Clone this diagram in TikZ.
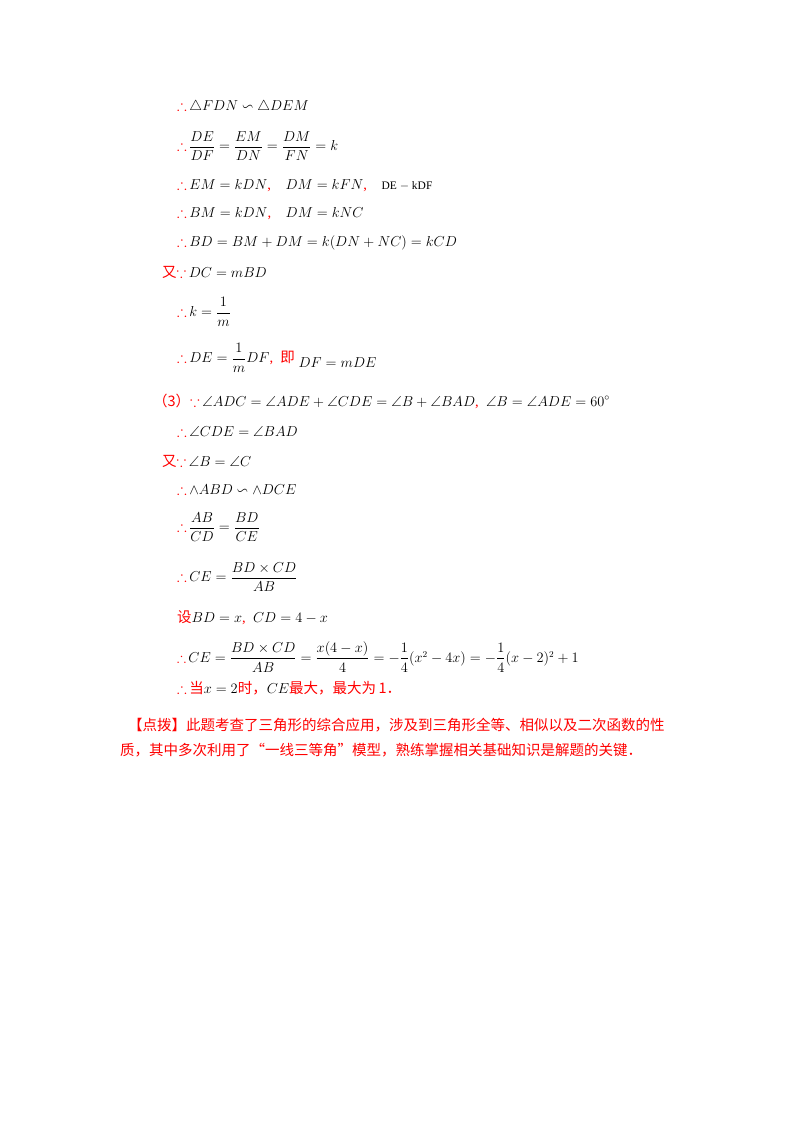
\documentclass[tikz,border=0pt]{standalone}
\usepackage{amsmath,amssymb}
\usepackage{fontspec}
\setmainfont{Liberation Serif}
\newfontfamily\cjk{Noto Sans CJK SC}
\begin{document}
\begin{tikzpicture}[x=1pt,y=-1pt,
  ln/.style={anchor=west,inner sep=0pt,font=\fontsize{14.5}{16}\selectfont},
  cn/.style={anchor=west,inner sep=0pt,text=red,font=\cjk\fontsize{14.5}{16}\selectfont}]
\useasboundingbox (0,0) rectangle (800,1132);
\newcommand{\tf}{{\color{red}$\boldsymbol{\therefore}$}\,}
\newcommand{\bc}{{\color{red}$\boldsymbol{\because}$}\,}
\node[ln] (l1) at (177,107) {\tf$\triangle FDN\backsim\triangle DEM$};
\node[ln] (l2) at (177,146) {\tf$\dfrac{DE}{DF}=\dfrac{EM}{DN}=\dfrac{DM}{FN}=k$};
\node[ln] (l3) at (177,186) {\tf$EM=kDN${\color{red},}\quad$DM=kFN${\color{red},}\quad{\fontsize{11.5}{13}\selectfont DE $-$ kDF}};
\node[ln] (l4) at (177,214) {\tf$BM=kDN${\color{red},}\quad$DM=kNC$};
\node[ln] (l5) at (177,243) {\tf$BD=BM+DM=k(DN+NC)=kCD$};
\node[ln] (l6) at (162,272) {{\cjk\color{red}又}\bc$DC=mBD$};
\node[ln] (l7) at (177,312) {\tf$k=\dfrac{1}{m}$};
\node[ln] (l8) at (177,358) {\tf$DE=\dfrac{1}{m}DF${\color{red},}\ \ {\cjk\color{red}即}\ \raisebox{-5pt}{$DF=mDE$}};
\node[ln] (l9) at (153,401) {{\cjk\color{red}（3）}\bc$\angle ADC=\angle ADE+\angle CDE=\angle B+\angle BAD${\color{red},}\ \ $\angle B=\angle ADE=60^\circ$};
\node[ln] (l10) at (177,431) {\tf$\angle CDE=\angle BAD$};
\node[ln] (l11) at (162,461) {{\cjk\color{red}又}\bc$\angle B=\angle C$};
\node[ln] (l12) at (177,489) {\tf$\wedge ABD\backsim\wedge DCE$};
\node[ln] (l13) at (177,527) {\tf$\dfrac{AB}{CD}=\dfrac{BD}{CE}$};
\node[ln] (l14) at (177,577) {\tf$CE=\dfrac{BD\times CD}{AB}$};
\node[ln] (l15) at (177,618) {{\cjk\color{red}设}$BD=x${\color{red},}\ \ $CD=4-x$};
\node[ln,font=\fontsize{13.5}{15}\selectfont] (l16) at (177,657) {\tf$CE=\dfrac{BD\times CD}{AB}=\dfrac{x(4-x)}{4}=-\dfrac{1}{4}(x^2-4x)=-\dfrac{1}{4}(x-2)^2+1$};
\node[ln] (l17) at (177,688) {\tf{\cjk\color{red}当}$x=2${\cjk\color{red}时，}$CE${\cjk\color{red}最大，最大为\,1．}};
\node[cn] (p1) at (128,725) {【点拨】此题考查了三角形的综合应用，涉及到三角形全等、相似以及二次函数的性};
\node[cn] (p2) at (120,750) {质，其中多次利用了“一线三等角”模型，熟练掌握相关基础知识是解题的关键．};
\end{tikzpicture}
\end{document}
